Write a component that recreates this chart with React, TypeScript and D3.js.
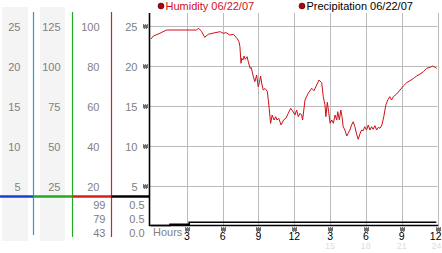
import React from "react";
import * as d3 from "d3";

const humHours = [0,0.2,0.75,1.0,1.3,2.5,3.8,4.0,4.25,4.5,4.8,5.36,5.8,6.05,6.3,6.6,6.9,7.2,7.37,7.45,7.54,7.6,7.7,7.8,7.9,8.05,8.15,8.3,8.4,8.57,8.7,8.85,8.98,9.08,9.18,9.3,9.4,9.55,9.75,9.9,10.02,10.15,10.3,10.45,10.55,10.7,10.9,11.1,11.3,11.5,11.7,11.85,12.06,12.2,12.34,12.48,12.62,12.7,12.8,12.9,13.17,13.46,13.65,13.88,14.07,14.3,14.43,14.57,14.65,14.77,14.88,15.0,15.14,15.28,15.42,15.56,15.64,15.78,15.9,16.0,16.1,16.24,16.4,16.52,16.66,16.8,16.94,17.08,17.22,17.36,17.5,17.64,17.78,17.9,18.06,18.2,18.34,18.48,18.6,18.76,18.9,19.04,19.18,19.34,19.5,19.68,19.85,20.0,20.15,20.3,20.58,20.86,21.14,21.42,21.7,22.0,22.25,22.54,22.82,23.1,23.37,23.6,23.8,23.93];
const humValues = [93.75,95.25,96.6,97.4,98.25,98.25,98.25,99.1,97.4,94.6,96.1,96.9,97.4,96.6,96.9,95.75,96.1,94.1,92.4,89.9,81.6,84.1,83.25,85.25,83.6,84.9,82.4,79.1,79.5,74.9,72.4,75.75,69.9,72,75.25,70.75,68.25,69,67.4,59.1,51.6,55.75,53.25,54.9,53.25,54.1,50.75,53.25,54.1,56.6,59.1,57.9,55.75,58.25,54.9,56.6,55.75,53.25,58.25,63.25,66.6,69.1,67.9,70.75,73.25,71.9,64.9,60.9,54.9,62.1,57.4,51.6,53.25,51.6,55.75,53.25,57.4,53.25,58.25,54.9,49.9,48.25,45.25,46.6,48.25,50.75,52.4,49.9,46.25,43.6,46.25,48.25,47.9,49.9,48.25,50.75,48.25,49.9,48.6,50.4,48.25,49.6,49.1,50.75,54.9,60.9,63.4,64.9,63.25,64.9,66.25,68.25,70.25,71.9,72.9,74.1,75.25,76.25,77.4,79.1,79.6,80.25,79.6,79.1];

const precipHours = [0, 1.6, 3.2, 23.9];
const precipValues = [0, 0.02, 0.055, 0.055];

const col1Ticks = [25, 20, 15, 10, 5];
const col2Ticks = [125, 100, 75, 50, 25];
const col3Ticks = [100, 80, 60, 40, 20];
const col4Ticks = [25, 20, 15, 10, 5];
const humStats = ["99", "79", "43"];
const precipStats = ["0.5", "0.5", "0.0"];
const hourTicks = [3, 6, 9, 12, 15, 18, 21, 24];
const hourLabels = ["3", "6", "9", "12", "3", "6", "9", "12"];
const hourLabels24 = ["", "", "", "", "15", "18", "21", "24"];

const FONT = "'Liberation Sans', Arial, sans-serif";

function Marker({ x, y }: { x: number; y: number }) {
  const px = [
    [0, 0], [2, 0], [4, 0],
    [1, 1], [3, 1],
    [0, 2], [2, 2], [4, 2],
    [1, 3], [3, 3],
  ];
  return (
    <g transform={`translate(${x - 2.5},${y - 2})`}>
      <rect x={0} y={0} width={5} height={4} fill="#999" opacity={0.5} />
      {px.map(([a, b], i) => (
        <rect key={i} x={a} y={b} width={1} height={1} fill="#111" />
      ))}
    </g>
  );
}

export default function App() {
  const x = d3.scaleLinear().domain([0, 24]).range([151, 437.5]);
  const yHum = d3.scaleLinear().domain([20, 100]).range([186.5, 26.5]);
  const y25 = d3.scaleLinear().domain([5, 25]).range([186.5, 26.5]);
  const y125 = d3.scaleLinear().domain([25, 125]).range([186.5, 26.5]);
  const yP = d3.scaleLinear().domain([0, 0.5]).range([225.5, 196.5]);

  const humData = humHours.map((h, i) => [h, humValues[i]] as [number, number]).filter(d => d[1] !== undefined);
  const humLine = d3.line<[number, number]>().x(d => x(d[0])).y(d => yHum(d[1]))(humData) || "";
  const pData = precipHours.map((h, i) => [h, precipValues[i]] as [number, number]);
  const pLine = d3.line<[number, number]>().x(d => x(d[0])).y(d => yP(d[1])).curve(d3.curveStepAfter)(pData) || "";

  const textGrey = "#808080";
  const statRows = [204.5, 218.5, 232.5];

  return (
    <svg width={442} height={253} style={{ position: "fixed", left: 0, top: 0, background: "#fff" }} fontFamily={FONT}>
      <rect x={0} y={0} width={442} height={253} fill="#fff" />
      {/* grey bands */}
      <rect x={2} y={7} width={26} height={234} fill="#f4f4f4" />
      <rect x={40} y={7} width={25} height={234} fill="#f4f4f4" />

      {/* column lines */}
      <line x1={33.5} x2={33.5} y1={12} y2={235} stroke="#18a0d8" strokeWidth={1.2} />
      <line x1={72.5} x2={72.5} y1={12} y2={237} stroke="#22aa22" strokeWidth={1.2} />
      <line x1={111.5} x2={111.5} y1={12} y2={237} stroke="#d42222" strokeWidth={1.2} />

      {/* column labels */}
      <g fontSize={11} fill={textGrey} textAnchor="end">
        {col1Ticks.map(t => (
          <text key={"a" + t} x={20.5} y={y25(t) + 4}>{t}</text>
        ))}
        {col2Ticks.map(t => (
          <text key={"b" + t} x={60.5} y={y125(t) + 4}>{t}</text>
        ))}
        {col3Ticks.map(t => (
          <text key={"c" + t} x={99.5} y={yHum(t) + 4}>{t}</text>
        ))}
        {col4Ticks.map(t => (
          <text key={"d" + t} x={137.5} y={y25(t) + 4}>{t}</text>
        ))}
        {humStats.map((s, i) => (
          <text key={"h" + i} x={105.5} y={statRows[i] + 4}>{s}</text>
        ))}
        {precipStats.map((s, i) => (
          <text key={"p" + i} x={144.5} y={statRows[i] + 4}>{s}</text>
        ))}
      </g>

      {/* gridlines */}
      <g stroke="#bbbbbb" strokeWidth={1}>
        {col4Ticks.map(t => (
          <line key={"gh" + t} x1={149.5} x2={437.5} y1={y25(t)} y2={y25(t)} />
        ))}
        {hourTicks.map(h => (
          <line key={"gv" + h} x1={Math.round(x(h)) + 0.5} x2={Math.round(x(h)) + 0.5} y1={13} y2={225} />
        ))}
      </g>

      {/* separator bar */}
      <line x1={0} x2={33} y1={196.5} y2={196.5} stroke="#1f3fd0" strokeWidth={2.5} />
      <line x1={33} x2={72.5} y1={196.5} y2={196.5} stroke="#22aa22" strokeWidth={2.5} />
      <line x1={72.5} x2={111.5} y1={196.5} y2={196.5} stroke="#d42020" strokeWidth={2.5} />
      <line x1={111.5} x2={149.5} y1={196.5} y2={196.5} stroke="#000" strokeWidth={2.5} />

      {/* y markers */}
      {col4Ticks.map(t => (
        <Marker key={"m" + t} x={145.5} y={y25(t)} />
      ))}

      {/* baseline and axis */}
      <line x1={149} x2={438.5} y1={225.5} y2={225.5} stroke="#000" strokeWidth={1.3} />
      <line x1={149.5} x2={149.5} y1={13} y2={226} stroke="#000" strokeWidth={1.6} />

      {/* data */}
      <path d={humLine} fill="none" stroke="#d01018" strokeWidth={1} />
      <path d={pLine} fill="none" stroke="#000" strokeWidth={1.6} />

      {/* x labels */}
      <text x={153} y={235.5} fontSize={11} fill={textGrey}>Hours</text>
      {hourTicks.map((h, i) => (
        <g key={"xl" + h}>
          <Marker x={Math.round(x(h)) + 0.5} y={229.5} />
          <text x={i === hourTicks.length - 1 ? 441.5 : x(h)} y={239.5} fontSize={10.5} fill="#000"
            textAnchor={i === hourTicks.length - 1 ? "end" : "middle"}>{hourLabels[i]}</text>
          {hourLabels24[i] && (
            <text x={i === hourTicks.length - 1 ? 441.5 : x(h)} y={249} fontSize={9} fill="#dddddd"
              textAnchor={i === hourTicks.length - 1 ? "end" : "middle"}>{hourLabels24[i]}</text>
          )}
        </g>
      ))}

      {/* legend */}
      <circle cx={161} cy={6} r={3} fill="#b00010" stroke="#400" strokeWidth={0.6} />
      <text x={165.5} y={10} fontSize={11} fill="#d01018">Humidity 06/22/07</text>
      <circle cx={302} cy={6} r={3} fill="#b00010" stroke="#400" strokeWidth={0.6} />
      <text x={306.5} y={10} fontSize={11} fill="#000">Precipitation 06/22/07</text>
    </svg>
  );
}
